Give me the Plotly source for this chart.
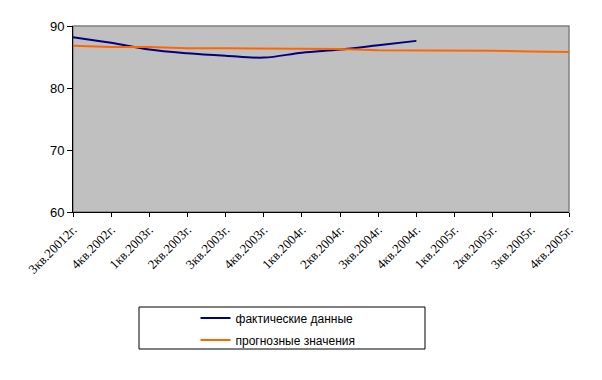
import plotly.graph_objects as go

categories = ["3кв.20012г.", "4кв.2002г.", "1кв.2003г.", "2кв.2003г.", "3кв.2003г.",
              "4кв.2003г.", "1кв.2004г.", "2кв.2004г.", "3кв.2004г.", "4кв.2004г.",
              "1кв.2005г.", "2кв.2005г.", "3кв.2005г.", "4кв.2005г."]
actual = [88.2, 87.3, 86.2, 85.6, 85.2, 84.9, 85.7, 86.2, 86.9, 87.6]
forecast = [86.8, 86.6, 86.6, 86.4, 86.4, 86.4, 86.3, 86.3, 86.1, 86.1, 86.1, 86.0, 85.9, 85.8]
y_ticks = [60, 70, 80, 90]

fig = go.Figure()
fig.add_trace(go.Scatter(x=categories[:len(actual)], y=actual, mode="lines",
                         name="фактические данные", legendgroup="a",
                         line=dict(color="#000080", width=2, shape="spline")))
fig.add_trace(go.Scatter(x=categories, y=forecast, mode="lines",
                         name="прогнозные значения", legendgroup="b",
                         line=dict(color="#FF6600", width=2)))

fig.update_layout(
    width=602, height=380,
    margin=dict(l=73, r=33, t=26, b=168, autoexpand=False),
    paper_bgcolor="white",
    plot_bgcolor="#C0C0C0",
    font=dict(family="Liberation Sans, Arial", size=12, color="black"),
    showlegend=True,
    legend=dict(x=0.247, y=-0.492, xanchor="left", yanchor="top",
                bgcolor="rgba(0,0,0,0)", borderwidth=0,
                font=dict(family="Liberation Sans, Arial", size=12),
                tracegroupgap=3, itemwidth=30),
    shapes=[
        dict(type="rect", xref="paper", yref="paper", x0=0, x1=1, y0=0, y1=1,
             line=dict(color="#808080", width=1.5), layer="below"),
        dict(type="rect", xref="paper", yref="paper",
             x0=(139 - 73) / 496, x1=(425 - 73) / 496,
             y0=-(349 - 212) / 186, y1=-(307 - 212) / 186,
             line=dict(color="black", width=1)),
    ],
)
fig.update_xaxes(type="category", categoryorder="array", categoryarray=categories,
                 range=[0, len(categories) - 1], tickangle=-45,
                 ticks="outside", ticklen=4, tickcolor="black",
                 showline=True, linecolor="black", linewidth=1, showgrid=False,
                 tickfont=dict(family="Liberation Serif, Times New Roman", size=13))
fig.update_yaxes(range=[60, 90], tickvals=y_ticks, ticks="outside", ticklen=5,
                 tickcolor="black", showline=True, linecolor="black", linewidth=1,
                 showgrid=False, zeroline=False,
                 tickfont=dict(family="Liberation Sans, Arial", size=13))

fig.write_html("out.html", config={"displayModeBar": False},
               post_script="document.body.style.margin='0';")
